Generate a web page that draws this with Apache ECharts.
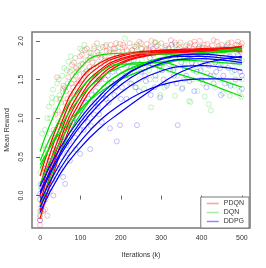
<!DOCTYPE html>
<html><head><meta charset="utf-8">
<script src="https://cdn.jsdelivr.net/npm/echarts@6/dist/echarts.min.js"></script>
<style>html,body{margin:0;padding:0;background:#fff}#c{width:266px;height:268px}</style>
</head><body><div id="c"></div>
<script>
var iters = [0,50,100,150,200,250,300,350,400,450,500];
var xTicks = [0,100,200,300,400,500];
var yTicks = [0,0.5,1,1.5,2];

var pdqnPoints = [[0,-0.38],[0,-0.32],[0,-0.27],[3,-0.2],[6,-0.12],[8,0.02],[12,-0.18],[15,0.15],[18,-0.26],[20,0.3],[24,0.05],[26,0.45],[30,0.22],[33,0.6],[36,0.4],[40,0.75],[42,1.53],[45,0.58],[48,0.9],[52,0.72],[55,1.05],[57,1.38],[60,0.88],[63,1.2],[66,1.0],[70,1.53],[72,1.15],[75,1.32],[79,1.69],[82,1.4],[85,1.25],[88,1.55],[92,1.45],[95,1.62],[99,1.8],[102,1.5],[106,1.7],[111,1.88],[114,1.6],[118,1.75],[122,1.66],[126,1.84],[130,1.72],[134,1.9],[138,1.78],[141,1.97],[145,1.82],[150,1.7],[155,1.92],[160,1.8],[165,1.87],[170,1.75],[175,1.95],[180,1.83],[186,1.9],[192,1.78],[198,1.96],[204,1.86],[210,1.92],[216,1.8],[222,1.97],[228,1.88],[234,1.93],[240,1.83],[246,1.99],[252,1.9],[258,1.85],[264,1.96],[270,1.89],[276,2.0],[282,1.84],[288,1.93],[294,1.88],[300,1.97],[306,1.86],[312,1.94],[318,1.9],[324,2.01],[330,1.85],[336,1.95],[342,1.89],[348,1.98],[354,1.87],[360,1.93],[366,1.84],[372,1.97],[378,1.9],[384,1.95],[390,1.86],[396,2.0],[402,1.91],[408,1.87],[414,1.96],[420,1.89],[426,1.94],[432,1.85],[438,1.99],[444,1.9],[450,1.95],[456,1.88],[462,1.93],[468,1.86],[474,1.98],[480,1.91],[486,1.95],[492,1.88],[498,1.93],[500,1.97],
[5,0.1],[10,0.35],[14,-0.05],[22,0.5],[28,0.7],[34,0.85],[38,1.05],[44,1.1],[50,1.25],[54,0.95],[58,1.42],[64,1.35],[68,1.25],[74,1.6],[78,1.45],[84,1.72],[90,1.65],[96,1.48],[104,1.82],[108,1.58],[116,1.9],[124,1.78],[132,1.65],[142,1.86],[152,1.78],[162,1.93],[172,1.85],[182,1.9],[188,1.97],[196,1.86],[206,1.95],[214,1.88],[226,1.84],[238,1.92],[250,1.97],[262,1.88],[274,1.92],[286,1.98],[298,1.86],[310,1.91],[322,1.86],[334,1.98],[346,1.91],[358,1.88],[370,1.93],[382,1.99],[394,1.89],[406,1.95],[418,1.9],[430,2.01],[442,1.93],[454,1.86],[466,1.97],[478,1.89],[490,1.99],[496,1.86]];

var dqnPoints = [[0,-0.25],[0,-0.2],[2,0.1],[4,0.5],[6,-0.1],[8,0.65],[10,0.3],[12,0.85],[15,0.05],[18,1.0],[20,0.55],[22,1.15],[25,1.0],[27,0.4],[30,1.27],[32,1.37],[35,0.75],[38,1.1],[42,1.45],[45,0.95],[48,1.3],[52,1.2],[55,1.55],[58,0.9],[62,1.4],[66,1.62],[70,1.73],[74,1.25],[79,1.62],[83,1.5],[87,1.78],[92,1.35],[96,1.68],[99,1.9],[104,1.88],[108,1.55],[112,1.75],[118,1.45],[122,1.85],[128,1.62],[134,1.93],[140,1.7],[146,1.5],[152,1.82],[158,1.6],[164,1.95],[170,1.72],[176,1.4],[182,1.85],[188,1.65],[194,1.92],[200,1.55],[206,1.78],[210,2.03],[216,1.68],[222,1.45],[228,1.88],[234,1.6],[240,1.95],[246,1.5],[252,1.75],[258,1.38],[264,1.9],[270,1.62],[275,1.14],[280,1.82],[286,1.5],[292,1.95],[298,1.3],[304,1.7],[310,1.88],[316,1.45],[322,1.62],[328,1.92],[334,1.29],[340,1.55],[346,1.8],[352,1.4],[358,1.7],[364,1.95],[369,1.22],[373,1.21],[378,1.5],[384,1.85],[390,1.35],[396,1.65],[402,1.92],[408,1.28],[414,1.58],[418,1.18],[423,1.1],[428,1.75],[434,1.4],[440,1.9],[446,1.5],[453,1.32],[458,1.7],[464,1.95],[470,1.29],[476,1.6],[482,1.42],[488,1.85],[494,1.35],[500,1.75],[500,1.5],
[1,0.3],[5,0.8],[9,-0.05],[14,0.6],[17,0.2],[24,0.8],[29,1.2],[34,0.6],[40,1.25],[46,1.5],[50,0.8],[56,1.35],[60,1.65],[68,1.45],[76,1.8],[84,1.3],[90,1.6],[102,1.7],[110,1.95],[116,1.62],[126,1.8],[136,1.55],[148,1.9],[160,1.75],[172,1.88],[186,1.45],[198,1.8],[212,1.6],[226,1.75],[238,1.4],[250,1.9],[262,1.65],[272,1.5],[284,1.98],[296,1.62],[308,1.4],[320,1.8],[332,1.65],[344,1.95],[356,1.5],[366,1.78],[380,1.62],[392,1.9],[404,1.45],[416,1.8],[430,1.55],[442,1.68],[456,1.88],[468,1.45],[480,1.72],[492,1.95],[498,1.28]];

var ddpgPoints = [[0,-0.32],[0,-0.05],[0,0.02],[3,-0.15],[6,0.1],[9,-0.08],[12,0.2],[16,0.0],[20,0.3],[25,0.1],[28,0.42],[33,0.0],[36,0.5],[40,0.25],[45,0.6],[50,0.35],[54,0.75],[57,0.24],[62,0.15],[65,0.65],[70,0.9],[74,0.45],[78,0.8],[83,1.0],[88,0.6],[92,0.95],[99,0.54],[103,1.1],[108,0.85],[113,1.2],[118,0.95],[124,0.6],[128,1.3],[133,1.05],[138,1.35],[143,1.15],[148,1.5],[153,0.95],[158,1.4],[163,1.25],[168,1.55],[173,0.87],[178,1.45],[184,1.3],[190,0.7],[195,1.6],[198,0.91],[203,1.4],[208,1.7],[214,1.25],[220,1.55],[226,1.45],[232,1.75],[240,0.91],[245,1.35],[250,1.6],[256,1.82],[262,1.48],[268,1.68],[274,1.3],[280,1.9],[286,1.55],[292,1.72],[297,1.27],[302,1.62],[308,1.85],[314,1.42],[320,1.7],[326,1.95],[332,1.55],[341,0.91],[346,1.78],[352,1.38],[358,1.65],[364,1.88],[370,1.48],[376,1.72],[382,1.35],[388,1.6],[394,1.92],[400,1.5],[406,1.75],[412,1.4],[418,1.68],[424,1.85],[430,1.45],[436,1.6],[442,1.78],[448,1.3],[454,1.55],[460,1.9],[466,1.65],[472,1.42],[478,1.75],[484,1.5],[490,1.82],[496,1.6],[500,1.38],
[2,0.15],[8,-0.2],[14,0.35],[18,0.05],[23,0.45],[30,0.2],[38,0.55],[43,0.35],[48,0.7],[52,0.5],[60,0.85],[67,0.55],[72,0.7],[80,0.95],[86,0.75],[95,1.1],[100,0.85],[106,1.2],[112,1.0],[120,1.25],[126,0.9],[135,1.2],[140,1.45],[146,1.05],[155,1.3],[162,1.5],[170,1.2],[180,1.6],[188,1.4],[200,1.25],[212,1.55],[224,1.65],[236,1.4],[248,1.7],[260,1.55],[272,1.78],[284,1.4],[296,1.68],[306,1.5],[318,1.8],[330,1.62],[338,1.45],[350,1.72],[362,1.55],[374,1.85],[386,1.7],[398,1.62],[410,1.82],[422,1.55],[434,1.72],[446,1.65],[458,1.45],[470,1.8],[482,1.62],[494,1.72],[500,1.55]];

var pdqnFits = [
  [0.25,1.0,1.5,1.72,1.82,1.86,1.88,1.89,1.9,1.91,1.92],
  [0.12,0.9,1.42,1.68,1.8,1.85,1.87,1.88,1.89,1.9,1.9],
  [0.0,0.8,1.35,1.63,1.77,1.83,1.86,1.87,1.88,1.88,1.89],
  [-0.1,0.72,1.28,1.6,1.75,1.82,1.85,1.86,1.87,1.87,1.86],
  [-0.2,0.65,1.22,1.55,1.72,1.8,1.84,1.86,1.88,1.9,1.93],
  [-0.3,0.55,1.15,1.5,1.7,1.79,1.83,1.85,1.86,1.87,1.87]
];
var dqnFits = [
  [0.57,1.22,1.65,1.82,1.84,1.84,1.83,1.83,1.84,1.85,1.87],
  [0.45,1.0,1.38,1.6,1.7,1.7,1.64,1.56,1.48,1.38,1.28],
  [0.35,0.88,1.27,1.52,1.66,1.72,1.72,1.66,1.58,1.49,1.4],
  [0.4,0.82,1.12,1.34,1.5,1.61,1.69,1.76,1.82,1.87,1.91],
  [-0.15,0.55,1.05,1.38,1.58,1.68,1.73,1.75,1.74,1.72,1.7],
  [0.15,0.7,1.1,1.38,1.58,1.7,1.78,1.82,1.85,1.87,1.89]
];
var ddpgFits = [
  [0.12,0.62,1.0,1.3,1.52,1.67,1.76,1.8,1.8,1.78,1.75],
  [0.02,0.52,0.9,1.2,1.43,1.6,1.71,1.76,1.77,1.75,1.72],
  [-0.08,0.42,0.8,1.1,1.33,1.5,1.61,1.67,1.68,1.66,1.62],
  [-0.15,0.35,0.7,0.98,1.18,1.33,1.43,1.49,1.51,1.51,1.5],
  [-0.22,0.28,0.62,0.88,1.08,1.27,1.45,1.6,1.7,1.76,1.8],
  [0.05,0.55,0.95,1.25,1.5,1.67,1.77,1.82,1.83,1.81,1.78]
];

var names = ['PDQN','DQN','DDPG'];
var pointColors = ['rgba(255,0,0,0.3)','rgba(0,205,0,0.3)','rgba(0,0,255,0.3)'];
var lineColors = ['#ff0000','#00e000','#0000ff'];
var legendColors = ['#f7a3a3','#a3eca3','#8f8ff0'];

var series = [];
[pdqnPoints, dqnPoints, ddpgPoints].forEach(function(pts, i){
  series.push({type:'scatter', name:'pts'+i, data:pts, symbol:'circle', symbolSize:5,
    itemStyle:{color:'rgba(0,0,0,0)', borderColor:pointColors[i], borderWidth:1}, silent:true, z:2});
});
[pdqnFits, dqnFits, ddpgFits].forEach(function(fits, i){
  fits.forEach(function(f, j){
    series.push({type:'line', name:'fit'+i+'_'+j, data:iters.map(function(x,k){return [x,f[k]];}),
      smooth:0.5, showSymbol:false, lineStyle:{color:lineColors[i], width:1.2}, silent:true, z:3});
  });
});
names.forEach(function(n, i){
  series.push({type:'line', name:n, data:[], itemStyle:{color:legendColors[i]}, lineStyle:{color:legendColors[i]}});
});

var font = 'Liberation Sans';
var chart = echarts.init(document.getElementById('c'), null, {renderer:'canvas'});
chart.setOption({
  animation:false,
  backgroundColor:'#fff',
  grid:{left:32, right:16, top:32, bottom:40, outerBoundsMode:'none', containLabel:false, show:true, borderColor:'#777', borderWidth:1.5, backgroundColor:'transparent'},
  legend:{data:names, orient:'vertical', right:17, bottom:40, icon:'rect', itemWidth:12, itemHeight:1.5, itemGap:2,
    padding:[3,5,3,6], backgroundColor:'#fff', borderColor:'#777', borderWidth:1, borderRadius:0,
    textStyle:{fontFamily:font, fontSize:7, color:'#333', padding:[0,0,0,0]}, selectedMode:false},
  xAxis:{type:'value', min:-20, max:520, name:'Iterations (k)', nameLocation:'middle', nameGap:24,
    nameTextStyle:{fontFamily:font, fontSize:7, color:'#333'},
    axisLine:{show:false}, splitLine:{show:false},
    axisTick:{show:true, customValues:xTicks, length:4, lineStyle:{color:'#666'}},
    axisLabel:{customValues:xTicks, fontFamily:font, fontSize:7, color:'#333', margin:7}},
  yAxis:{type:'value', min:-0.42, max:2.115, name:'Mean Reward', nameLocation:'middle', nameGap:19,
    nameTextStyle:{fontFamily:font, fontSize:7, color:'#333'},
    axisLine:{show:false}, splitLine:{show:false},
    axisTick:{show:true, customValues:yTicks, length:4, lineStyle:{color:'#666'}},
    axisLabel:{customValues:yTicks, rotate:90, fontFamily:font, fontSize:7, color:'#333', margin:7,
      formatter:function(v){return v.toFixed(1);}}},
  series:series
});
</script></body></html>
